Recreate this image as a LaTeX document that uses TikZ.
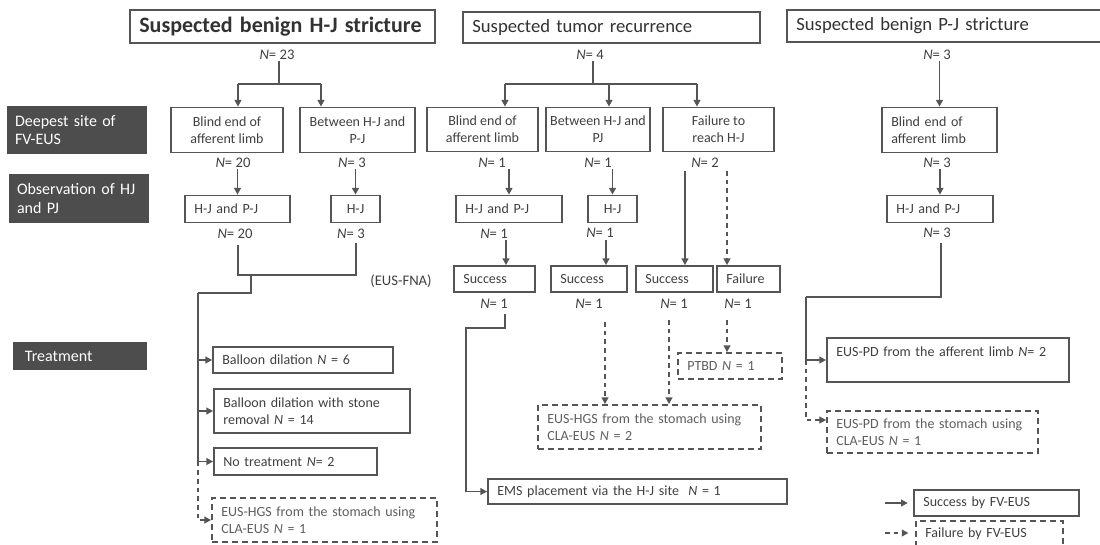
\documentclass[tikz,border=0pt]{standalone}
\usepackage{fontspec}
\setmainfont{Carlito}
\usepackage{tikz}
\usetikzlibrary{
	arrows.meta,
	positioning,
	calc
}
\usepackage{xcolor}

\definecolor{linegray}{HTML}{555555}
\definecolor{textgray}{HTML}{3F3F3F}
\definecolor{softgray}{HTML}{5E5E5E}
\definecolor{labelfill}{HTML}{4D4D4D}
\newcommand{\Nit}{\textit{N}}

\tikzset{
	box/.style={draw=linegray,line width=1.3pt,text=textgray,inner sep=0pt,
		font=\fontsize{10.5}{13}\selectfont},
	cbox/.code 2 args={%
		\pgfmathsetlengthmacro\boxw{#1*0.75pt}%
		\pgfmathsetlengthmacro\boxh{#2*0.75pt}%
		\tikzset{box,align=center,minimum width/.expanded=\boxw,minimum height/.expanded=\boxh}},
	lbox/.code 2 args={%
		\pgfmathsetlengthmacro\boxw{#1*0.75pt-14pt}%
		\pgfmathsetlengthmacro\boxh{#2*0.75pt}%
		\tikzset{box,inner xsep=7pt,align=left,text width/.expanded=\boxw,minimum height/.expanded=\boxh}},
	dbox/.style 2 args={lbox={#1}{#2},dash pattern=on 4.5pt off 3pt,text=softgray},
	hbox/.style 2 args={lbox={#1}{#2},text=textgray!80!black,font=\fontsize{14}{16}\selectfont},
	sidelab/.code 2 args={%
		\pgfmathsetlengthmacro\boxw{#1*0.75pt-12pt}%
		\pgfmathsetlengthmacro\boxh{#2*0.75pt}%
		\tikzset{fill=labelfill,text=white,inner sep=0pt,inner xsep=6pt,align=left,
			font=\fontsize{12}{14}\selectfont,text width/.expanded=\boxw,minimum height/.expanded=\boxh}},
	nlab/.style={text=textgray,inner sep=1pt,font=\fontsize{11}{12}\selectfont},
	link/.style={draw=linegray,line width=1.3pt},
	ok/.style={link,->},
	fail/.style={link,->,dash pattern=on 3.5pt off 3pt}
}

\begin{document}
\begin{tikzpicture}[>={Triangle[length=5pt,width=5pt]},x=0.75pt,y=-0.75pt]
	\useasboundingbox (0,0) rectangle (1100,544);
	
	% Group titles
	\node[hbox={305}{33},font=\bfseries\fontsize{16.5}{18}\selectfont] (t1) at (282.5,26.5) {Suspected benign H-J stricture};
	\node[hbox={297}{31}] (t2) at (611.5,27.5) {Suspected tumor recurrence};
	\node[hbox={317}{32}] (t3) at (945.5,26) {Suspected benign P-J stricture};
	
	% Row labels
	\node[sidelab={140}{48}] (L1) at (77,130) {Deepest site of\\FV-EUS};
	\node[sidelab={140}{49}] (L2) at (79,198.5) {Observation of HJ\\and PJ};
	\node[sidelab={134}{28}] (L3) at (80,356) {\hspace*{3pt}Treatment};
	
	% Deepest site
	\node[cbox={112}{45}] (a1) at (227,130) {Blind end of\\afferent limb};
	\node[cbox={115}{45}] (a2) at (357.5,130) {Between H-J and\\P-J};
	\node[cbox={111}{44}] (b1) at (482.5,129.5) {Blind end of\\afferent limb};
	\node[cbox={104}{44}] (b2) at (598,129.5) {Between H-J and\\PJ};
	\node[cbox={111}{44}] (b3) at (718.5,129.5) {Failure to\\reach H-J};
	\node[lbox={115}{45}] (c1) at (939.5,130) {Blind end of\\afferent limb};
	
	% Observation
	\node[lbox={105}{27}] (o1) at (237.5,209) {H-J and P-J};
	\node[cbox={49}{27}] (o2) at (355.5,209) {H-J};
	\node[lbox={106}{27}] (o3) at (509,209) {H-J and P-J};
	\node[cbox={49}{27}] (o4) at (612.5,209) {H-J};
	\node[lbox={106}{27}] (o5) at (940,209) {H-J and P-J};
	
	% FV-EUS result
	\node[lbox={81}{26}] (s1) at (494.5,279) {Success};
	\node[lbox={76}{26}] (s2) at (589,279) {Success};
	\node[lbox={77}{26}] (s3) at (674.5,279) {Success};
	\node[lbox={63}{26}] (f1) at (748.5,279) {Failure};
	\node[nlab] (fna) at (401,281) {(EUS-FNA)};
	
	% Treatment
	\node[lbox={180}{26}] (d1) at (303,360) {Balloon dilation \Nit{} = 6};
	\node[lbox={196}{44}] (d2) at (312,411) {Balloon dilation with stone\\removal \Nit{} = 14};
	\node[lbox={163}{27}] (d3) at (295.5,461.5) {No treatment \Nit= 2};
	\node[dbox={225}{44}] (d4) at (324.5,520) {EUS-HGS from the stomach using\\CLA-EUS \Nit{} = 1};
	\node[dbox={104}{26}] (ptbd) at (730,366) {PTBD \Nit{} = 1};
	\node[dbox={223}{44}] (hgs2) at (649.5,427) {EUS-HGS from the stomach using\\CLA-EUS \Nit{} = 2};
	\node[lbox={299}{25}] (ems) at (637.5,491.5) {EMS placement via the H-J site~\ \Nit{} = 1};
	\node[lbox={242}{44}] (pd1) at (948,360) {EUS-PD from the afferent limb \Nit= 2\\\mbox{}};
	\node[dbox={211}{42}] (pd2) at (932.5,432) {EUS-PD from the stomach using\\CLA-EUS \Nit{} = 1};
	
	% Legend
	\node[lbox={165}{26}] (leg1) at (996.5,503) {Success by FV-EUS};
	\node[dbox={147}{26},text=textgray] (leg2) at (989.5,534) {Failure by FV-EUS};
	
	% Case numbers
	\foreach \nm/\x/\y/\v in {n23/277/55/23,n4/590/55/4,n3a/937/55/3,
		n20a/233/163/20,n3b/352/163/3,n1a/492/163/1,n1b/598/163/1,n2a/705/163/2,n3c/937/163/3,
		n20b/235/234/20,n3d/351/234/3,n1c/494/234/1,n1d/600/233/1,n3e/937/233/3,
		n1e/494/304/1,n1f/589/304/1,n1g/674/304/1,n1h/738/304/1}
	{
		\node[nlab] (\nm) at (\x,\y) {\Nit= \v};
	}
	
	% Branches from the titles
	\coordinate (hj) at (279,84);
	\coordinate (hjl) at (238,84);
	\coordinate (hjr) at (321,84);
	\draw[link] (hj |- n23.south) -- (hj);
	\draw[link] (hjl) -- (hjr);
	\draw[ok] (hjl) -- (hjl |- a1.north);
	\draw[ok] (hjr) -- (hjr |- a2.north);
	
	\coordinate (tj) at (593,84);
	\coordinate (tjl) at (505,84);
	\coordinate (tjm) at (609,84);
	\coordinate (tjr) at (697,84);
	\draw[link] (tj |- n4.south) -- (tj);
	\draw[link] (tjl) -- (tjr);
	\foreach \c/\b in {tjl/b1,tjm/b2,tjr/b3}
	{
		\draw[ok] (\c) -- (\c |- \b.north);
	}
	
	\draw[ok] (n3a.south -| c1.north) -- (c1.north);
	
	% Deepest site -> observation
	\foreach \n/\o in {n20a/o1,n3b/o2,n1a/o3,n1b/o4,n3c/o5}
	{
		\draw[ok] (\n.south -| \o.north) -- (\o.north);
	}
	\coordinate (fr1) at (685,171);
	\coordinate (fr2) at (727,171);
	\draw[ok] (fr1) -- (fr1 |- s3.north);
	\draw[fail] (fr2) -- (fr2 |- f1.north);
	
	% Observation -> result
	\coordinate (tk1) at (506,240);
	\coordinate (tk2) at (606,240);
	\draw[ok] (tk1) -- (tk1 |- s1.north);
	\draw[ok] (tk2) -- (tk2 |- s2.north);
	
	% Benign H-J treatment
	\coordinate (mg1) at (238,245);
	\coordinate (mg2) at (356,243);
	\coordinate (mgj) at (251,275);
	\coordinate (trk) at (198,293);
	\draw[link] (mg1) |- (mgj) -| (mg2);
	\draw[link] (mgj) |- (trk);
	\foreach \t in {d1,d2,d3}
	{
		\draw[ok] (trk) |- (\t.west);
	}
	\draw[fail] (trk |- d3.west) |- (d4.west);
	
	% Tumor treatment
	\coordinate (u1) at (505,314);
	\coordinate (u1b) at (466,328);
	\coordinate (u2) at (605,322);
	\coordinate (u3) at (669,320);
	\coordinate (u4) at (727,320);
	\draw[ok] (u1) |- (u1b) |- (ems.west);
	\draw[fail] (u2) -- (u2 |- hgs2.north);
	\draw[fail] (u3) -- (u3 |- hgs2.north);
	\draw[fail] (u4) -- (u4 |- ptbd.north);
	
	% Benign P-J treatment
	\coordinate (v1) at (941,243);
	\coordinate (v2) at (806,297);
	\draw[link] (v1) |- (v2);
	\draw[ok] (v2) |- (pd1.west);
	\draw[fail] (v2 |- pd1.west) |- ([yshift=9pt]pd2.west);
	
	% Legend arrows
	\coordinate (lg1) at (885,503);
	\coordinate (lg2) at (885,533);
	\draw[ok,shorten >=4pt] (lg1) -- (lg1 -| leg1.west);
	\draw[fail,shorten >=5pt] (lg2) -- (lg2 -| leg2.west);
	
\end{tikzpicture}
\end{document}
